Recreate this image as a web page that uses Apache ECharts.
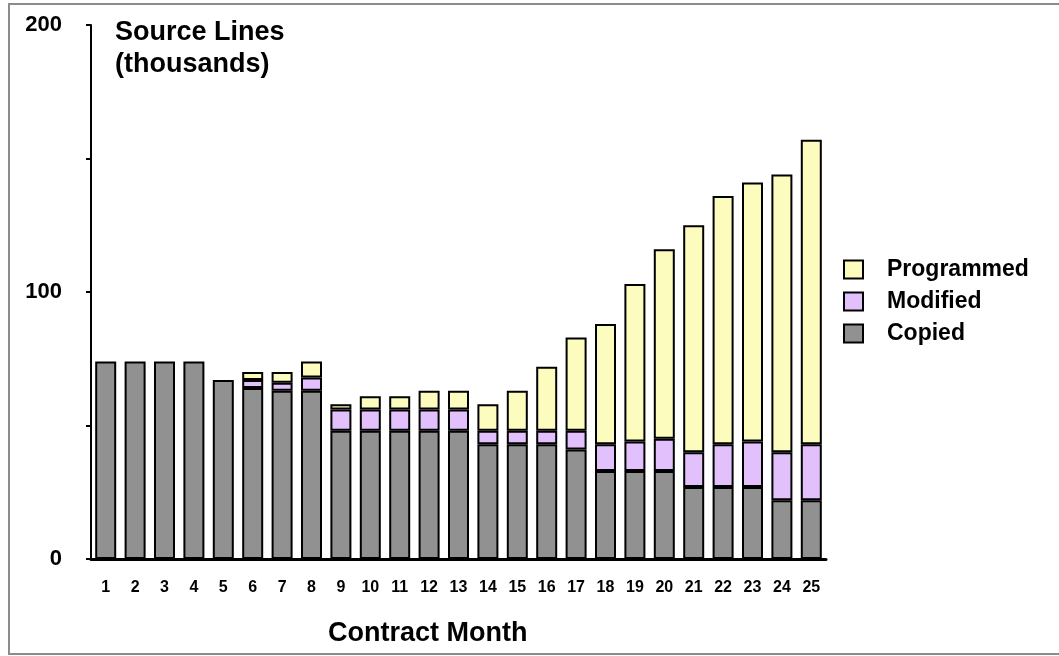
<!DOCTYPE html>
<html>
<head>
<meta charset="utf-8">
<script src="https://cdn.jsdelivr.net/npm/echarts@6/dist/echarts.min.js"></script>
<style>
  html, body { margin: 0; padding: 0; background: #fff; }
  #chart { width: 1059px; height: 656px; }
</style>
</head>
<body>
<div id="chart"></div>
<script>
// Contract months on the x axis
const months = ['1', '2', '3', '4', '5', '6', '7', '8', '9', '10', '11', '12', '13',
  '14', '15', '16', '17', '18', '19', '20', '21', '22', '23', '24', '25'];

// Source lines in thousands, per stacked segment
const copied = [74, 74, 74, 74, 67, 64, 63, 63, 48, 48, 48, 48, 48, 43, 43, 43, 41, 33, 33, 33, 27, 27, 27, 22, 22];
const modified = [0, 0, 0, 0, 0, 3, 3, 5, 8, 8, 8, 8, 8, 5, 5, 5, 7, 10, 11, 12, 13, 16, 17, 18, 21];
const programmed = [0, 0, 0, 0, 0, 3, 4, 6, 2, 5, 5, 7, 7, 10, 15, 24, 35, 45, 59, 71, 85, 93, 97, 104, 114];

const yLabels = [0, 100, 200];

const chart = echarts.init(document.getElementById('chart'));

const font = 'Liberation Sans, Arial, sans-serif';

function segment(name, data, color) {
  return {
    name: name,
    type: 'bar',
    stack: 'total',
    barWidth: 21,
    data: data.map(v => (v === 0 ? null : v)),
    itemStyle: { color: color, borderColor: '#000', borderWidth: 2 }
  };
}

chart.setOption({
  animation: false,
  textStyle: { fontFamily: font },
  graphic: [{
    type: 'rect',
    shape: { x: 9, y: 4, width: 1060, height: 650 },
    style: { fill: null, stroke: '#8c8c8c', lineWidth: 2 },
    silent: true
  }],
  title: [
    {
      text: 'Source Lines\n(thousands)',
      left: 110, top: 12,
      textStyle: { fontSize: 27, fontWeight: 'bold', color: '#000', lineHeight: 32, fontFamily: font }
    },
    {
      text: 'Contract Month',
      left: 323, top: 613,
      textStyle: { fontSize: 27, fontWeight: 'bold', color: '#000', lineHeight: 32, fontFamily: font }
    }
  ],
  legend: {
    orient: 'vertical',
    left: 838, top: 253,
    icon: 'rect',
    itemWidth: 19, itemHeight: 18, itemGap: 9,
    data: ['Programmed', 'Modified', 'Copied'],
    textStyle: { fontSize: 23, fontWeight: 'bold', color: '#000', padding: [0, 0, 0, 19], fontFamily: font },
    itemStyle: { borderColor: '#000', borderWidth: 2 }
  },
  grid: { left: 91, right: 233, top: 25, bottom: 97 },
  xAxis: {
    type: 'category',
    data: months,
    axisLine: { lineStyle: { color: '#000', width: 3 } },
    axisTick: { show: false },
    axisLabel: { color: '#000', fontSize: 16, fontWeight: 'bold', margin: 21, interval: 0 }
  },
  yAxis: {
    type: 'value',
    min: 0, max: 200, interval: 50,
    axisLine: { show: true, lineStyle: { color: '#000', width: 2 } },
    axisTick: { show: true, length: 5, lineStyle: { color: '#000', width: 2 } },
    splitLine: { show: false },
    axisLabel: {
      color: '#000', fontSize: 22, fontWeight: 'bold', margin: 29,
      formatter: v => (yLabels.includes(v) ? String(v) : '')
    }
  },
  series: [
    segment('Copied', copied, '#919191'),
    segment('Modified', modified, '#e2c0fc'),
    segment('Programmed', programmed, '#fcfcbe')
  ]
});
</script>
</body>
</html>
